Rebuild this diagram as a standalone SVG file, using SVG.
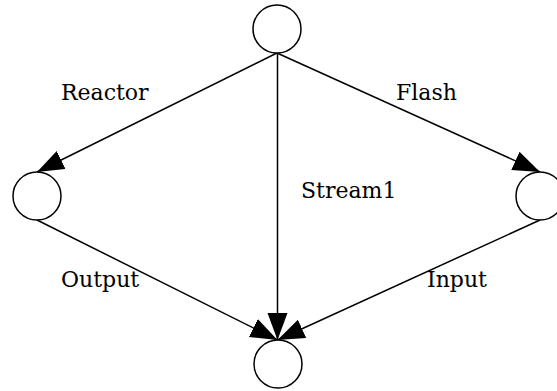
<svg xmlns="http://www.w3.org/2000/svg" width="557" height="391" viewBox="0 0 557 391">
<style>
.node{fill:#fff;stroke:#000;stroke-width:1.5}
.edge{fill:none;stroke:#000;stroke-width:1.5}
.lbl{font-family:"DejaVu Serif","Liberation Serif",serif;font-size:22px;fill:#000}
</style>
<defs>
<marker id="ah" markerUnits="userSpaceOnUse" markerWidth="30" markerHeight="22" refX="27" refY="10" orient="auto">
<path d="M0,0 L27,10 L0,20 Z" fill="#000"/>
</marker>
</defs>
<g id="connectors">
<line class="edge" x1="277" y1="53" x2="37" y2="172" marker-end="url(#ah)"/>
<line class="edge" x1="277" y1="53" x2="540" y2="172" marker-end="url(#ah)"/>
<line class="edge" x1="277.5" y1="53" x2="277.5" y2="340" stroke-width="2" marker-end="url(#ah)"/>
<line class="edge" x1="37" y1="220" x2="277.5" y2="340" marker-end="url(#ah)"/>
<line class="edge" x1="540" y1="220" x2="277.5" y2="340" marker-end="url(#ah)"/>
</g>
<g id="n-top"><circle class="node" cx="277" cy="29" r="24"/></g>
<g id="n-left"><circle class="node" cx="37" cy="196" r="24"/></g>
<g id="n-right"><circle class="node" cx="540" cy="196" r="24"/></g>
<g id="n-bottom"><circle class="node" cx="278" cy="364" r="24"/></g>
<g id="labels">
<text class="lbl" x="61" y="100">Reactor</text>
<text class="lbl" x="396" y="100">Flash</text>
<text class="lbl" x="301" y="198">Stream1</text>
<text class="lbl" x="61" y="287">Output</text>
<text class="lbl" x="427" y="287">Input</text>
</g>
</svg>
